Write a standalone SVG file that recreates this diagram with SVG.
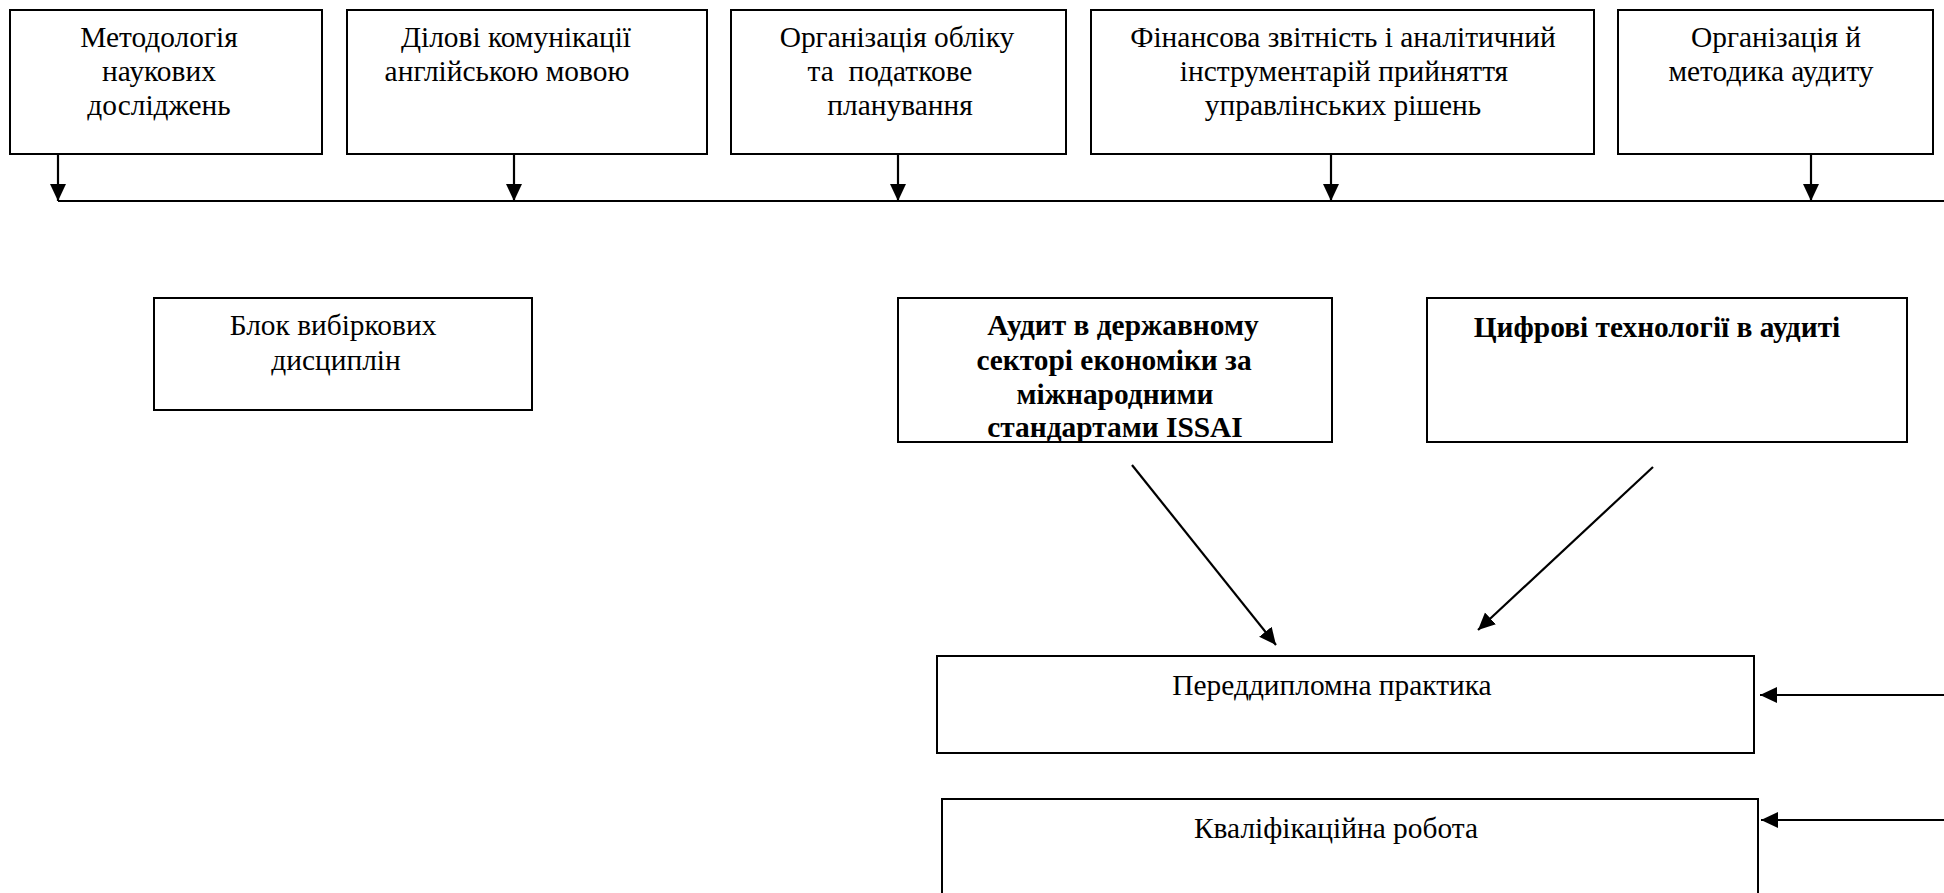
<svg xmlns="http://www.w3.org/2000/svg" width="1944" height="893" viewBox="0 0 1944 893">
<style>
.box{fill:#fff;stroke:#000;stroke-width:2}
.t{font-family:"Liberation Serif","Times New Roman",serif;font-size:29.4px;fill:#000;text-anchor:middle}
.b{font-weight:bold}
.c{fill:none;stroke:#000;stroke-width:2.2}
</style>
<defs>
<marker id="ah" markerUnits="userSpaceOnUse" markerWidth="17" markerHeight="17" viewBox="0 0 17 17" refX="17" refY="8.5" orient="auto">
<path d="M0,0.5 L17,8.5 L0,16.5 Z" fill="#000"/>
</marker>
</defs>
<rect width="1944" height="893" fill="#fff"/>
<g id="n1"><rect class="box" x="10" y="10" width="312" height="144"/>
<text class="t" x="159" y="47">Методологія</text><text class="t" x="159" y="81">наукових</text><text class="t" x="159" y="115">досліджень</text></g>
<g id="n2"><rect class="box" x="347" y="10" width="360" height="144"/>
<text class="t" x="516" y="47">Ділові комунікації</text><text class="t" x="507" y="81">англійською мовою</text></g>
<g id="n3"><rect class="box" x="731" y="10" width="335" height="144"/>
<text class="t" x="897" y="47">Організація обліку</text><text class="t" x="890" y="81" xml:space="preserve">та  податкове</text><text class="t" x="900" y="115">планування</text></g>
<g id="n4"><rect class="box" x="1091" y="10" width="503" height="144"/>
<text class="t" x="1343" y="47">Фінансова звітність і аналітичний</text><text class="t" x="1344" y="81">інструментарій прийняття</text><text class="t" x="1343" y="115">управлінських рішень</text></g>
<g id="n5"><rect class="box" x="1618" y="10" width="315" height="144"/>
<text class="t" x="1776" y="47">Організація й</text><text class="t" x="1771" y="81">методика аудиту</text></g>
<g id="n6"><rect class="box" x="154" y="298" width="378" height="112"/>
<text class="t" x="333" y="335">Блок вибіркових</text><text class="t" x="336" y="370">дисциплін</text></g>
<g id="n7"><rect class="box" x="898" y="298" width="434" height="144"/>
<text class="t b" x="1123" y="335">Аудит в державному</text><text class="t b" x="1114" y="370">секторі економіки за</text><text class="t b" x="1115" y="404">міжнародними</text><text class="t b" x="1115" y="437">стандартами ISSAI</text></g>
<g id="n8"><rect class="box" x="1427" y="298" width="480" height="144"/>
<text class="t b" x="1657" y="337">Цифрові технології в аудиті</text></g>
<g id="n9"><rect class="box" x="937" y="656" width="817" height="97"/>
<text class="t" x="1332" y="695">Переддипломна практика</text></g>
<g id="n10"><rect class="box" x="942" y="799" width="816" height="120"/>
<text class="t" x="1336" y="838">Кваліфікаційна робота</text></g>
<g id="connectors">
<line class="c" x1="58" y1="201" x2="1944" y2="201"/>
<line class="c" x1="58" y1="154" x2="58" y2="201" marker-end="url(#ah)"/>
<line class="c" x1="514" y1="154" x2="514" y2="201" marker-end="url(#ah)"/>
<line class="c" x1="898" y1="154" x2="898" y2="201" marker-end="url(#ah)"/>
<line class="c" x1="1331" y1="154" x2="1331" y2="201" marker-end="url(#ah)"/>
<line class="c" x1="1811" y1="154" x2="1811" y2="201" marker-end="url(#ah)"/>
<line class="c" x1="1132" y1="465" x2="1276" y2="645" marker-end="url(#ah)"/>
<line class="c" x1="1653" y1="467" x2="1478" y2="630" marker-end="url(#ah)"/>
<line class="c" x1="1944" y1="695" x2="1760" y2="695" marker-end="url(#ah)"/>
<line class="c" x1="1944" y1="820" x2="1761" y2="820" marker-end="url(#ah)"/>
</g>
</svg>
